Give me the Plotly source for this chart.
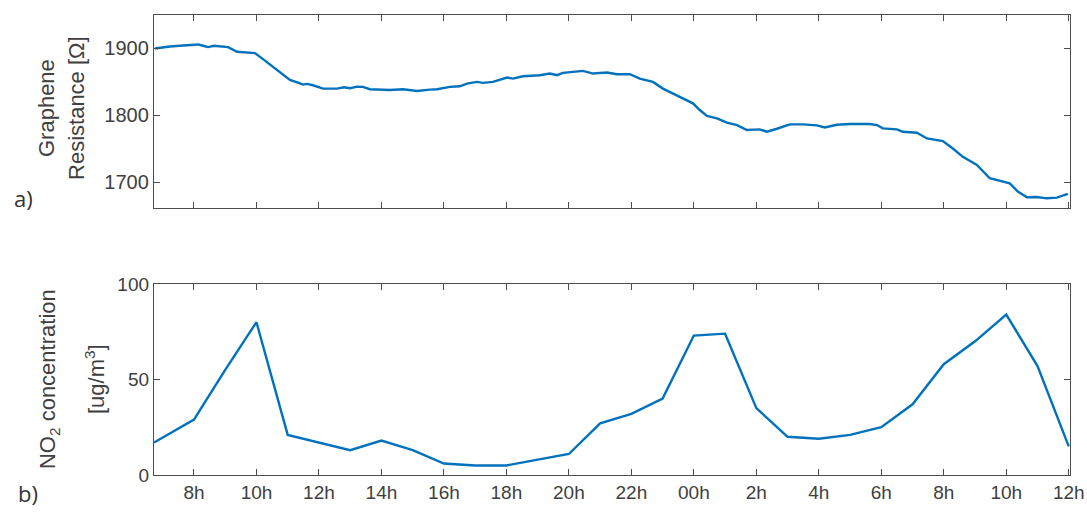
import plotly.graph_objects as go

# ---- data (hours since midnight of day 1; 24 = 00h next day) ----
res_hours = [6.75, 7.0, 7.23, 7.55, 7.87, 8.13, 8.29, 8.45, 8.64, 8.83, 9.09, 9.38, 9.70, 9.95,
             10.21, 10.53, 10.85, 11.07, 11.33, 11.49, 11.62, 11.81, 12.13, 12.58, 12.80,
             13.0, 13.22, 13.41, 13.63, 14.05, 14.27, 14.69, 15.14, 15.55, 15.78, 16.19, 16.51,
             16.74, 17.06, 17.25, 17.57, 18.02, 18.21, 18.53, 19.07, 19.39, 19.62, 19.81, 20.45,
             20.77, 21.22, 21.54, 21.95, 22.27, 22.59, 22.69,
             23.01, 23.33, 23.65, 23.97, 24.19, 24.42, 24.74, 25.06, 25.38,
             25.70, 26.11, 26.34, 26.66, 27.07, 27.49, 27.94, 28.19, 28.58, 29.0, 29.63, 29.86,
             30.05, 30.50, 30.69, 31.14, 31.46, 31.97, 32.29, 32.61, 33.06, 33.47, 33.89, 34.11,
             34.37, 34.66, 34.98, 35.30, 35.62, 35.97]
resistance = [1900, 1902, 1903, 1904, 1905, 1906, 1904, 1902, 1904, 1903, 1902, 1895, 1894, 1893,
              1884, 1872, 1860, 1853, 1849, 1846, 1847, 1845, 1840, 1840, 1842,
              1840.5, 1843, 1842.5, 1839, 1838.5, 1838, 1839, 1836.5, 1838.5, 1839, 1842.5, 1843.5,
              1847.5, 1850, 1848.5, 1850, 1856.5, 1855, 1858.5, 1860, 1862.5, 1860, 1863.5, 1866.5,
              1862.5, 1864, 1861.5, 1861.5, 1855, 1851.5, 1850,
              1840, 1833, 1826, 1818, 1808, 1799, 1795.5, 1789, 1785.5,
              1778, 1779, 1775.5, 1780, 1786.5, 1786.5, 1785, 1782, 1786, 1787, 1787, 1785.5,
              1780.5, 1779, 1775.5, 1774, 1765.5, 1761.5, 1750.5, 1738, 1726, 1706, 1701, 1698.5,
              1686, 1677.5, 1678, 1676, 1677, 1682.5]

no2_hours = [6.72, 8, 9, 10, 11, 12, 13, 14, 15, 16, 17, 18, 19, 20, 21, 22, 23, 24,
             25, 26, 27, 28, 29, 30, 31, 32, 33, 34, 35, 36]
no2 = [17, 29, 55, 80, 21, 17, 13, 18, 13, 6, 5, 5, 8, 11, 27, 32, 40, 73,
       74, 35, 20, 19, 21, 25, 37, 58, 70, 84, 57, 15]

tick_vals = [8, 10, 12, 14, 16, 18, 20, 22, 24, 26, 28, 30, 32, 34, 36]
tick_text = ["8h", "10h", "12h", "14h", "16h", "18h", "20h", "22h", "00h",
             "2h", "4h", "6h", "8h", "10h", "12h"]

LINE = "#0072BD"
AX = "#4d4d4d"
TXT = "#404040"
FONT = "Liberation Sans, Arial, sans-serif"

fig = go.Figure()
fig.add_trace(go.Scatter(x=res_hours, y=resistance, mode="lines",
                         line=dict(color=LINE, width=2.4), xaxis="x", yaxis="y",
                         showlegend=False))
fig.add_trace(go.Scatter(x=no2_hours, y=no2, mode="lines",
                         line=dict(color=LINE, width=2.4), xaxis="x2", yaxis="y2",
                         showlegend=False))

common_x = dict(range=[6.72, 36.04], ticks="inside", ticklen=6, automargin=False,
                tickwidth=1.3, tickcolor=AX, showline=True, linecolor=AX, linewidth=1.3,
                mirror="allticks", showgrid=False, zeroline=False)
common_y = dict(ticks="inside", ticklen=6, tickwidth=1.3, tickcolor=AX, showline=True,
                linecolor=AX, linewidth=1.3, mirror="allticks", showgrid=False,
                zeroline=False, automargin=False)

fig.update_layout(
    width=1087, height=512,
    margin=dict(l=154, r=17, t=15, b=37),
    paper_bgcolor="white", plot_bgcolor="white",
    font=dict(family=FONT, color=TXT),
    xaxis=dict(domain=[0, 1], anchor="y", tickvals=tick_vals, showticklabels=False, **common_x),
    yaxis=dict(domain=[0.5804, 1], anchor="x", range=[1661.5, 1950],
               tickvals=[1700, 1800, 1900], tickfont=dict(size=20, color=TXT), **common_y),
    xaxis2=dict(domain=[0, 1], anchor="y2", tickvals=tick_vals, ticktext=tick_text,
                tickfont=dict(size=19, color=TXT), **common_x),
    yaxis2=dict(domain=[0, 0.4152], anchor="x2", range=[0, 100],
                tickvals=[0, 50, 100], tickfont=dict(size=19, color=TXT), **common_y),
)

ann = [
    dict(text="Graphene", x=-0.1179, y=0.7978, size=22),
    dict(text="Resistance [Ω]", x=-0.0852, y=0.7978, size=22),
    dict(text="NO<sub>2</sub> concentration", x=-0.1146, y=0.2087, size=22),
    dict(text="[ug/m<sup>3</sup>]", x=-0.0644, y=0.2087, size=22),
]
for a in ann:
    fig.add_annotation(text=a["text"], x=a["x"], y=a["y"], xref="paper", yref="paper",
                       xanchor="center", yanchor="middle", textangle=-90, showarrow=False,
                       font=dict(family=FONT, size=a["size"], color=TXT))

fig.add_annotation(text="a)", x=-0.143, y=0.602, xref="paper", yref="paper",
                   xanchor="center", yanchor="middle", showarrow=False,
                   font=dict(family="Open Sans, sans-serif", size=22, color="#333333"))
fig.add_annotation(text="b)", x=-0.1376, y=-0.039, xref="paper", yref="paper",
                   xanchor="center", yanchor="middle", showarrow=False,
                   font=dict(family="Open Sans, sans-serif", size=22, color="#333333"))

fig.write_html("out.html")
